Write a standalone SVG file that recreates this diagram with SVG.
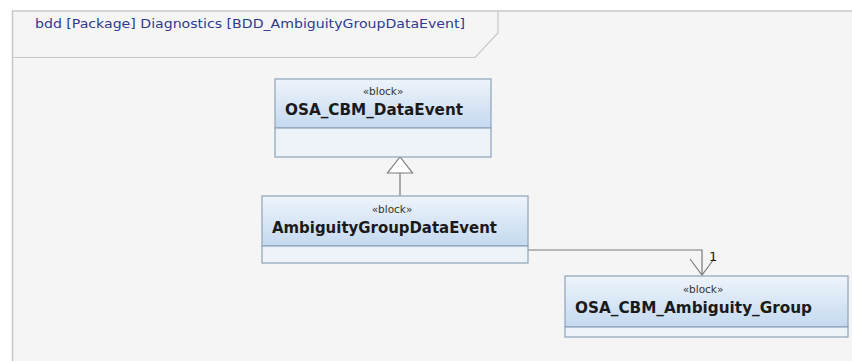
<svg xmlns="http://www.w3.org/2000/svg" width="852" height="361" viewBox="0 0 852 361">
<defs>
<linearGradient id="hdr" x1="0" y1="0" x2="0" y2="1">
<stop offset="0" stop-color="#eef4fb"/>
<stop offset="1" stop-color="#c4d9ef"/>
</linearGradient>
<style>
.blk{fill:url(#hdr);stroke:#8ea3b8;stroke-width:1.2}
.cmp{fill:#eef3f9;stroke:#8ea3b8;stroke-width:1.2}
.st{font-family:"DejaVu Sans","Liberation Sans",sans-serif;font-size:10.5px;fill:#333;text-anchor:middle}
.nm{font-family:"DejaVu Sans","Liberation Sans",sans-serif;font-size:15px;font-weight:bold;fill:#1a1a1a}
.ln{fill:none;stroke:#7a7a7a;stroke-width:1.2}
.ttl{font-family:"DejaVu Sans","Liberation Sans",sans-serif;font-size:13px;fill:#2e3a92}
</style>
</defs>
<rect x="0" y="0" width="852" height="361" fill="#ffffff"/>
<g id="frame">
<rect x="12.5" y="11" width="845" height="355" fill="#f5f5f5" stroke="#c8c8c8" stroke-width="1.5"/>
<path d="M12.5 57.5 H475 L498 33 V11" fill="none" stroke="#c8c8c8" stroke-width="1.2"/>
<text class="ttl" x="35" y="28" textLength="430" lengthAdjust="spacingAndGlyphs">bdd [Package] Diagnostics [BDD_AmbiguityGroupDataEvent]</text>
</g>
<g id="connectors">
<line class="ln" x1="400" y1="173" x2="400" y2="196"/>
<polygon points="400,157 387.5,173 412.5,173" fill="#ffffff" stroke="#7a7a7a" stroke-width="1.2"/>
<path class="ln" d="M528 250 H702 V275"/>
<path class="ln" d="M690 259 L702 275 L714 259"/>
<text x="709" y="261" font-family="DejaVu Sans, sans-serif" font-size="13" fill="#1a1a1a">1</text>
</g>
<g id="OSA_CBM_DataEvent">
<rect class="blk" x="275" y="79" width="216" height="49"/>
<rect class="cmp" x="275" y="128" width="216" height="29"/>
<text class="st" x="383" y="95">«block»</text>
<text class="nm" x="285" y="115" textLength="178" lengthAdjust="spacingAndGlyphs">OSA_CBM_DataEvent</text>
</g>
<g id="AmbiguityGroupDataEvent">
<rect class="blk" x="262" y="196" width="266" height="50"/>
<rect class="cmp" x="262" y="246" width="266" height="17"/>
<text class="st" x="392" y="213">«block»</text>
<text class="nm" x="272" y="233" textLength="225" lengthAdjust="spacingAndGlyphs">AmbiguityGroupDataEvent</text>
</g>
<g id="OSA_CBM_Ambiguity_Group">
<rect class="blk" x="565" y="276" width="283" height="51"/>
<rect class="cmp" x="565" y="327" width="283" height="10"/>
<text class="st" x="703" y="293">«block»</text>
<text class="nm" x="575" y="313" textLength="237" lengthAdjust="spacingAndGlyphs">OSA_CBM_Ambiguity_Group</text>
</g>
</svg>
